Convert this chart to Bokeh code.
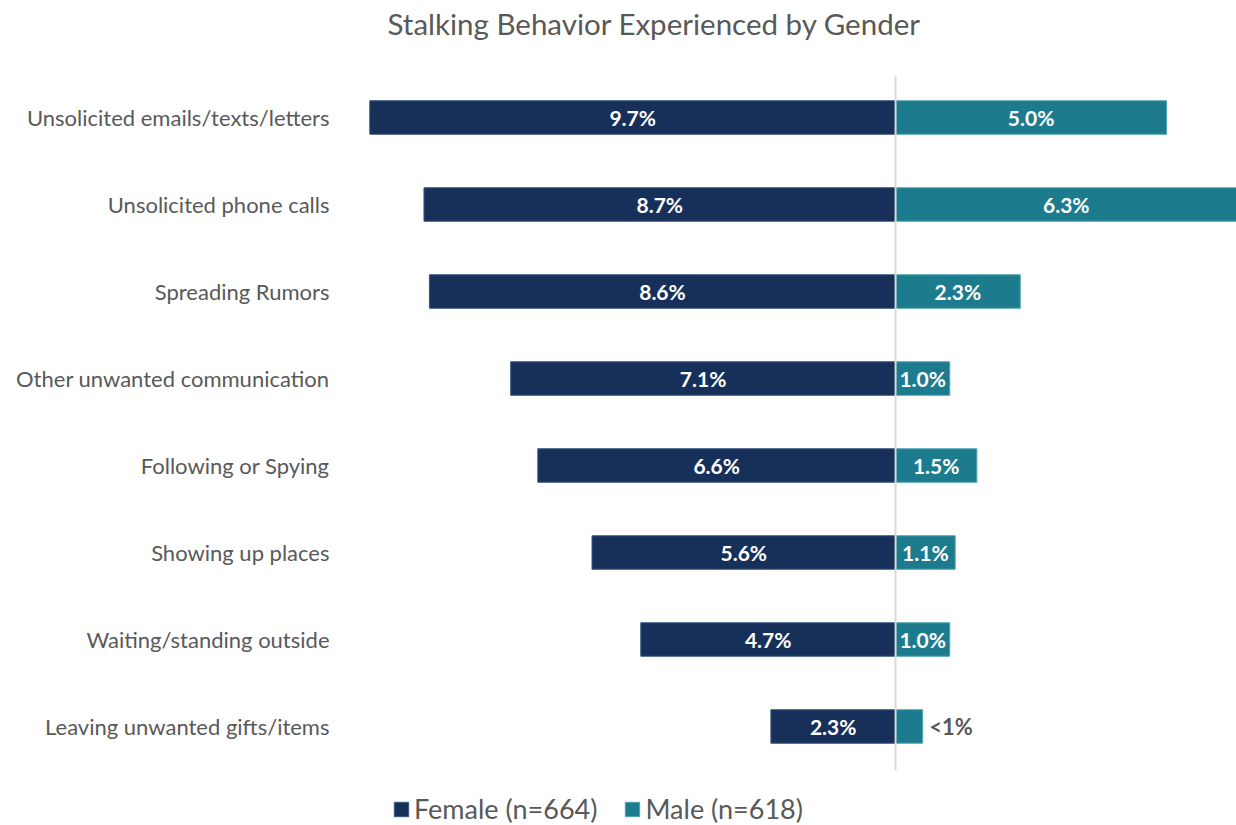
from bokeh.plotting import figure
from bokeh.models import ColumnDataSource, FixedTicker, Legend, LegendItem, Label
from bokeh.core.properties import value
from bokeh.embed import file_html
from bokeh.resources import INLINE

title_text = "Stalking Behavior Experienced by Gender"
categories = ["Unsolicited emails/texts/letters", "Unsolicited phone calls", "Spreading Rumors",
              "Other unwanted communication", "Following or Spying", "Showing up places",
              "Waiting/standing outside", "Leaving unwanted gifts/items"]
female = [9.7, 8.7, 8.6, 7.1, 6.6, 5.6, 4.7, 2.3]
male = [5.0, 6.3, 2.3, 1.0, 1.5, 1.1, 1.0, 0.5]
female_labels = ["9.7%", "8.7%", "8.6%", "7.1%", "6.6%", "5.6%", "4.7%", "2.3%"]
male_labels = ["5.0%", "6.3%", "2.3%", "1.0%", "1.5%", "1.1%", "1.0%", "<1%"]
series_names = ["Female (n=664)", "Male (n=618)"]

FEMALE_C = "#17305A"
MALE_C = "#1C7C8E"
GRAY = "#595959"
FONT = "Lato"

n = len(categories)
ys = [n - 1 - i for i in range(n)]

src = ColumnDataSource(dict(
    y=ys, f=female, m=male, fneg=[-v for v in female], zero=[0] * n,
    fmid=[-v / 2 for v in female], mmid=[v / 2 for v in male],
    fl=female_labels, ml=male_labels))

in_idx = [i for i, l in enumerate(male_labels) if not l.startswith("<")]
out_idx = [i for i, l in enumerate(male_labels) if l.startswith("<")]
src_in = ColumnDataSource(dict(y=[ys[i] for i in in_idx], x=[male[i] / 2 for i in in_idx],
                               t=[male_labels[i] for i in in_idx]))
src_out = ColumnDataSource(dict(y=[ys[i] for i in out_idx], x=[male[i] + 0.12 for i in out_idx],
                                t=[male_labels[i] for i in out_idx]))

W, H, LEFT = 1236, 825, 340
p = figure(width=W, height=H, output_backend="svg", toolbar_location=None,
           x_range=(-10.24, 6.29), y_range=(-1.138, 8.345),
           min_border_left=LEFT, min_border_right=0, min_border_top=0, min_border_bottom=0)
p.outline_line_color = None
p.grid.visible = False
p.xaxis.visible = False
p.background_fill_color = "white"
p.border_fill_color = "white"

title = Label(x=47, y=H - 23, x_units="screen", y_units="screen",
              text=title_text, text_font=FONT, text_font_size="29.5px",
              text_color=GRAY, text_align="left", text_baseline="alphabetic")
p.add_layout(title)

yax = p.yaxis[0]
yax.ticker = FixedTicker(ticks=ys)
yax.major_label_overrides = {y: c for y, c in zip(ys, categories)}
yax.axis_line_color = None
yax.major_tick_line_color = None
yax.minor_tick_line_color = None
yax.major_label_text_font = FONT
yax.major_label_text_font_size = "22px"
yax.major_label_text_color = GRAY
yax.major_label_standoff = 5

h = 0.385
rf = p.hbar(y="y", left="fneg", right="zero", height=h, source=src,
            fill_color=FEMALE_C, line_color="#3A5580", line_width=1)
rm = p.hbar(y="y", left="zero", right="m", height=h, source=src,
            fill_color=MALE_C, line_color="#4FA3B3", line_width=1)

p.segment(x0=[0], x1=[0], y0=[-0.5], y1=[n - 0.52], line_color="#D9D9D9", line_width=2)

p.text(x="fmid", y="y", text="fl", source=src, text_align="center", text_baseline="middle",
       text_color="white", text_font=value(FONT), text_font_style="bold", text_font_size="21px")
p.text(x="x", y="y", text="t", source=src_in, text_align="center", text_baseline="middle",
       text_color="white", text_font=value(FONT), text_font_style="bold", text_font_size="21px")
p.text(x="x", y="y", text="t", source=src_out, text_align="left", text_baseline="middle",
       text_color=GRAY, text_font=value(FONT), text_font_style="bold", text_font_size="22px")

legend = Legend(items=[LegendItem(label=series_names[0], renderers=[rf]),
                       LegendItem(label=series_names[1], renderers=[rm])],
                orientation="horizontal", location=(52, 0),
                label_text_font=FONT, label_text_font_size="27px", label_text_color=GRAY,
                glyph_width=18, glyph_height=18, label_standoff=4, spacing=26,
                padding=0, margin=0, border_line_color=None, background_fill_alpha=0)
p.add_layout(legend, "center")

open("out.html", "w").write(file_html(p, INLINE))
